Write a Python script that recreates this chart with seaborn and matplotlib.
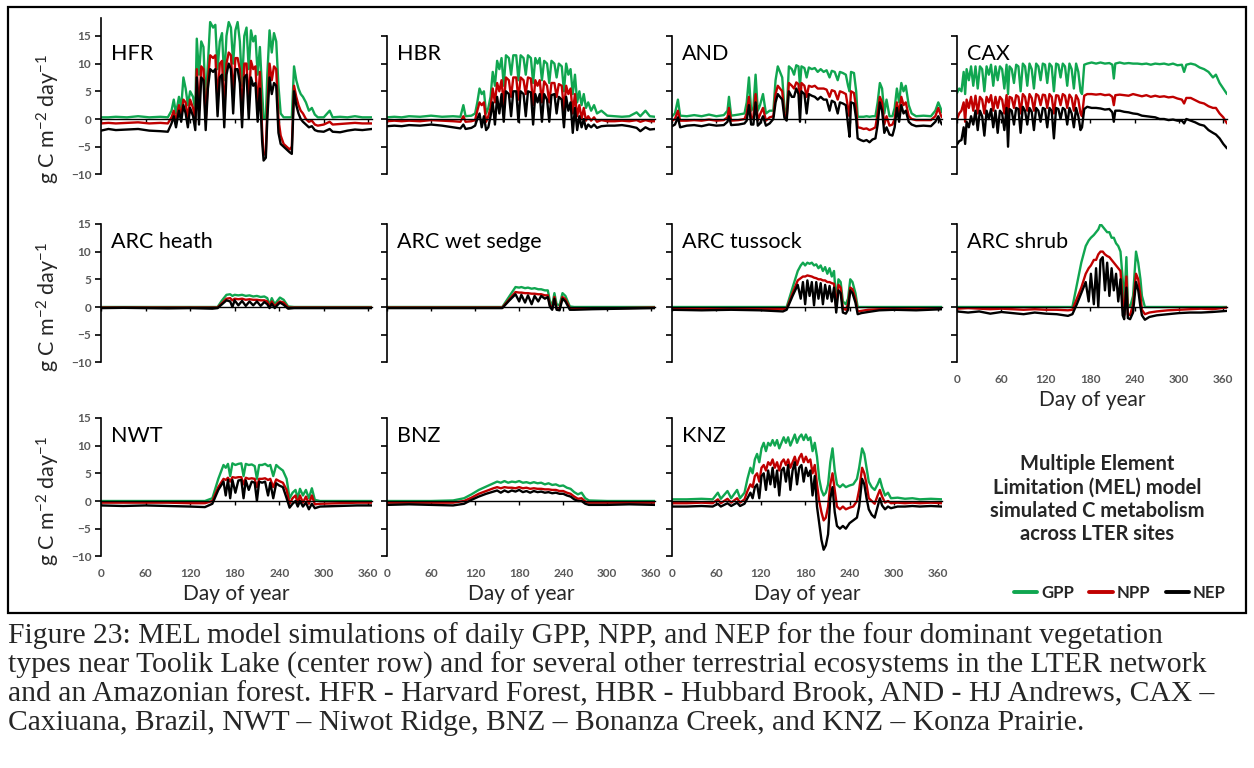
import matplotlib
matplotlib.use("Agg")
import matplotlib.pyplot as plt
from matplotlib.patches import Rectangle
from matplotlib.lines import Line2D
import seaborn as sns
import pandas as pd

# ---------------- data ----------------
FLUXES = ["GPP", "NPP", "NEP"]
COLORS = {"GPP": "#10A650", "NPP": "#C00000", "NEP": "#000000"}
XTICKS = [0, 60, 120, 180, 240, 300, 360]
YTICKS = [-10, -5, 0, 5, 10, 15]

HFR_DAY = [0, 10, 20, 35, 50, 65, 80, 90, 95, 98, 101, 105, 108, 111, 114, 117, 120, 124, 127, 129, 132, 135, 138, 141, 144, 147, 151, 154, 157, 160, 163, 166, 169, 172, 175, 178, 181, 184, 187, 190, 193, 196, 199, 202, 205, 208, 211, 214, 217, 219, 222, 224, 227, 230, 233, 236, 239, 242, 246, 250, 254, 257, 260, 263, 266, 269, 272, 276, 280, 284, 288, 292, 300, 308, 312, 322, 332, 342, 352, 365]
HFR_GPP = [0.3, 0.3, 0.4, 0.3, 0.5, 0.3, 0.4, 0.3, 1.5, 3.5, 1.0, 4.0, 2.0, 7.5, 5.5, 2.5, 5.0, 4.0, 1.5, 14.5, 8.0, 14.0, 13.0, 3.0, 10.0, 17.5, 16.5, 17.0, 9.0, 14.0, 15.5, 7.0, 15.0, 17.5, 16.5, 10.0, 16.0, 17.5, 14.0, 6.0, 15.0, 16.5, 9.0, 16.0, 14.0, 15.0, 8.0, 13.0, 5.0, 0.2, 0.2, 8.0, 16.0, 12.0, 15.5, 14.0, 6.0, 1.0, 0.3, 0.3, 0.3, 0.3, 9.5, 7.0, 5.5, 4.5, 4.0, 3.0, 1.5, 2.0, 0.8, 0.3, 0.3, 1.5, 0.3, 0.4, 0.3, 0.5, 0.3, 0.3]
HFR_NPP = [-0.8, -0.7, -0.8, -0.7, -0.6, -0.8, -0.7, -0.8, 0.3, 1.5, -0.5, 2.5, 0.5, 3.5, 3.0, 0.0, 3.5, 2.0, -0.5, 9.0, 1.5, 9.5, 9.0, -0.5, 7.0, 11.5, 11.0, 11.5, 3.0, 10.0, 10.5, 1.0, 10.0, 12.0, 11.5, 4.0, 11.0, 11.0, 9.0, 0.5, 10.0, 10.0, 3.0, 10.5, 9.0, 9.5, 2.0, 8.5, -2.0, -6.5, -6.0, 2.0, 10.0, 7.0, 9.5, 9.0, 0.0, -3.0, -4.5, -5.0, -5.5, -5.0, 6.0, 4.0, 2.5, 1.5, 1.0, 0.0, -0.5, -0.3, -1.0, -1.2, -1.0, -0.5, -1.0, -0.9, -0.8, -0.7, -0.8, -0.8]
HFR_NEP = [-2.1, -1.8, -2.0, -1.9, -1.8, -2.1, -2.2, -2.3, -0.8, 0.5, -1.5, 1.5, -0.5, 2.5, 1.0, -1.5, 2.0, 0.5, -2.0, 7.5, -1.0, 7.5, 7.0, -2.0, 5.5, 9.0, 8.5, 9.0, 0.5, 7.5, 8.0, -1.5, 8.0, 10.0, 9.0, 1.0, 9.0, 9.0, 6.5, -1.5, 7.5, 8.0, 0.0, 7.5, 6.0, 6.5, -0.5, 5.5, -4.0, -7.5, -7.0, 0.0, 7.5, 4.5, 6.5, 6.0, -2.5, -4.5, -5.0, -5.5, -6.0, -6.3, 5.0, 2.5, 1.0, 0.0, -0.5, -1.0, -1.5, -1.3, -2.0, -2.2, -2.3, -1.8, -2.3, -2.4, -2.1, -1.9, -2.0, -1.8]

HBR_DAY = [0, 10, 20, 30, 45, 60, 75, 90, 100, 104, 107, 115, 120, 123, 126, 129, 132, 135, 138, 141, 144, 147, 150, 153, 156, 159, 162, 166, 169, 172, 176, 179, 182, 186, 189, 192, 196, 199, 202, 205, 208, 211, 214, 218, 221, 224, 228, 231, 234, 238, 241, 244, 247, 250, 253, 256, 259, 262, 265, 268, 271, 274, 278, 282, 286, 292, 300, 310, 320, 330, 340, 345, 352, 358, 365]
HBR_GPP = [0.3, 0.4, 0.3, 0.5, 0.4, 0.6, 0.4, 0.5, 0.4, 2.5, 0.5, 0.6, 1.0, 3.0, 5.5, 4.5, 5.0, 1.0, 2.0, 4.0, 8.5, 6.0, 10.5, 9.0, 11.0, 6.0, 11.5, 11.0, 8.0, 11.5, 11.5, 7.0, 11.5, 11.0, 8.0, 11.5, 11.0, 6.5, 11.0, 10.0, 11.0, 7.0, 10.5, 10.0, 6.5, 10.5, 10.0, 7.5, 10.0, 9.5, 5.0, 10.0, 8.0, 9.0, 4.5, 8.0, 3.0, 5.0, 2.5, 4.5, 2.0, 3.0, 1.5, 2.5, 1.0, 1.5, 0.6, 0.5, 0.4, 0.5, 1.2, 0.5, 1.5, 0.5, 0.4]
HBR_NPP = [-0.4, -0.3, -0.4, -0.3, -0.4, -0.2, -0.3, -0.4, -0.5, 0.5, -0.5, -0.4, -0.2, 1.5, 3.0, 2.5, 3.0, -0.5, 0.5, 2.0, 5.5, 3.0, 6.5, 5.0, 7.0, 2.5, 7.5, 7.0, 4.0, 7.5, 7.5, 3.5, 7.5, 7.0, 4.5, 7.5, 7.3, 2.5, 7.0, 6.0, 7.0, 3.0, 6.8, 6.0, 3.0, 6.5, 6.5, 4.0, 6.3, 6.0, 1.5, 6.0, 4.5, 5.5, 1.0, 4.5, 0.5, 2.5, 0.0, 2.0, -0.3, 0.5, -0.3, 0.3, -0.5, -0.2, -0.4, -0.4, -0.3, -0.4, -0.2, -0.5, -0.2, -0.4, -0.4]
HBR_NEP = [-1.3, -1.2, -1.3, -1.1, -1.2, -1.0, -1.2, -1.5, -1.7, -1.0, -1.8, -1.6, -1.2, 0.0, 1.0, -1.5, 0.5, -2.0, -1.5, 0.5, 3.0, -1.0, 4.0, 1.0, 4.5, -0.5, 5.0, 4.5, 0.5, 5.0, 5.0, -0.5, 5.0, 4.5, 0.5, 5.0, 4.8, -1.0, 4.5, 3.0, 4.5, -0.5, 4.5, 3.5, -0.5, 4.3, 4.5, 1.0, 4.0, 3.5, -1.5, 4.0, 1.5, 3.0, -2.5, 2.0, -2.0, 0.5, -1.5, 0.0, -1.8, -1.0, -1.5, -1.0, -1.6, -1.3, -1.2, -1.2, -1.1, -1.3, -1.6, -2.2, -1.5, -1.9, -1.8]

AND_DAY = [0, 4, 8, 11, 20, 30, 40, 50, 60, 70, 75, 77, 80, 90, 98, 101, 104, 107, 110, 113, 116, 119, 123, 127, 132, 137, 140, 143, 146, 149, 152, 155, 158, 162, 165, 168, 171, 173, 175, 179, 182, 185, 189, 193, 197, 201, 205, 209, 213, 216, 220, 224, 227, 231, 235, 238, 240, 242, 246, 249, 251, 255, 259, 263, 267, 271, 275, 278, 281, 284, 287, 290, 294, 298, 301, 304, 307, 310, 313, 316, 320, 324, 330, 340, 350, 356, 360, 363, 365]
AND_GPP = [0.5, 1.0, 3.5, 0.6, 0.5, 0.7, 0.5, 0.8, 0.5, 0.7, 1.5, 4.0, 0.6, 0.8, 1.0, 3.0, 7.5, 1.5, 2.0, 8.0, 1.5, 2.5, 4.5, 1.0, 1.5, 1.5, 7.0, 9.5, 8.5, 7.5, 2.0, 1.0, 9.5, 9.0, 8.0, 9.7, 9.5, 6.0, 9.5, 9.2, 7.5, 9.3, 9.0, 9.2, 8.5, 9.0, 8.5, 8.8, 7.5, 8.7, 8.5, 7.0, 8.5, 8.3, 8.0, 6.0, 5.0, 8.5, 8.3, 5.0, 0.4, 0.4, 0.4, 0.5, 0.4, 0.5, 0.5, 3.0, 6.5, 5.5, 1.0, 3.5, 0.5, 0.5, 2.0, 5.5, 3.0, 6.5, 5.0, 6.0, 2.5, 1.0, 0.5, 0.6, 0.5, 1.5, 3.0, 2.0, 1.2]
AND_NPP = [-0.3, 0.0, 1.5, -0.3, -0.3, -0.2, -0.3, -0.1, -0.3, -0.2, 0.3, 2.0, -0.3, -0.2, 0.0, 1.0, 4.0, 0.0, 0.5, 4.5, -0.2, 0.8, 2.0, -0.3, 0.3, 0.5, 4.5, 6.0, 5.5, 5.0, 0.8, 0.3, 6.5, 6.0, 5.5, 6.6, 6.3, 2.0, 6.5, 6.0, 4.0, 6.0, 5.8, 6.0, 5.5, 5.5, 5.5, 5.3, 4.0, 5.2, 5.0, 3.5, 5.0, 4.8, 4.5, 2.0, 0.5, 5.0, 4.7, 2.0, -1.5, -1.6, -1.8, -1.7, -2.0, -1.8, -1.5, 1.0, 4.0, 3.0, -1.0, 0.5, -1.2, -1.0, 0.0, 3.0, 1.0, 4.0, 2.5, 3.0, 0.5, 0.0, -0.2, -0.2, -0.2, 0.5, 2.0, 0.8, 0.3]
AND_NEP = [-1.3, -1.0, 0.3, -1.5, -1.2, -1.1, -1.3, -1.0, -1.2, -1.1, -0.5, 0.5, -1.1, -1.0, -0.8, -0.3, 2.5, -1.0, -1.0, 3.0, -1.2, -0.8, 0.5, -1.2, -0.8, 0.0, 3.0, 4.5, 4.0, 3.5, 0.2, -0.3, 5.0, 4.0, 4.0, 5.5, 4.5, -0.5, 5.0, 4.5, 1.0, 4.5, 4.2, 4.0, 3.5, 4.0, 3.5, 3.5, 1.5, 3.3, 3.0, 1.0, 3.0, 2.8, 2.5, -1.0, -3.2, 3.0, 2.8, 0.0, -3.5, -3.8, -4.0, -3.8, -4.2, -3.7, -3.5, -1.0, 3.0, 1.5, -2.5, -1.5, -2.8, -3.0, -1.5, 2.0, -0.5, 2.5, 1.0, 1.5, -0.5, -1.0, -1.3, -1.2, -1.3, -0.5, 0.5, -0.5, -1.0]

CAX_DAY = [0, 3, 6, 9, 11, 13, 16, 19, 22, 25, 28, 31, 34, 37, 40, 43, 46, 49, 52, 55, 58, 61, 64, 67, 69, 71, 74, 77, 80, 83, 86, 89, 92, 95, 98, 101, 104, 107, 110, 113, 116, 119, 122, 125, 128, 131, 134, 137, 140, 143, 146, 149, 152, 155, 158, 161, 164, 167, 169, 172, 176, 182, 188, 194, 200, 206, 210, 212, 214, 220, 226, 232, 238, 244, 250, 256, 262, 268, 274, 280, 286, 292, 298, 304, 307, 310, 316, 322, 328, 334, 340, 346, 350, 355, 360, 365]
CAX_GPP = [4.7, 5.5, 5.0, 8.5, 4.5, 9.0, 7.0, 9.5, 6.0, 9.5, 5.5, 9.5, 9.0, 5.0, 9.5, 8.0, 9.8, 6.0, 9.5, 7.0, 9.5, 9.0, 5.5, 9.8, 4.5, 9.5, 9.0, 6.5, 9.8, 9.5, 5.0, 10.0, 9.5, 6.0, 10.0, 9.0, 5.5, 10.0, 9.5, 7.0, 10.0, 9.8, 6.5, 10.0, 9.5, 5.0, 10.0, 9.8, 7.5, 10.0, 9.5, 6.0, 10.0, 9.0, 5.5, 10.0, 8.5, 5.0, 4.5, 9.8, 10.0, 10.2, 10.0, 10.2, 10.0, 10.1, 9.8, 7.3, 10.0, 10.2, 10.0, 10.1, 10.0, 10.0, 9.9, 10.0, 9.8, 10.0, 9.9, 10.0, 9.8, 10.0, 9.7, 9.8, 8.5, 9.8, 10.0, 9.8, 9.3, 9.0, 8.5, 7.5, 8.0, 6.5, 5.5, 4.5]
CAX_NPP = [0.0, 1.0, 1.5, 3.0, -0.5, 3.5, 2.0, 4.0, 1.5, 4.2, 1.0, 4.0, 3.5, 1.0, 4.0, 3.0, 4.3, 1.5, 4.0, 2.0, 4.0, 3.5, 1.0, 4.3, 0.5, 4.0, 3.8, 2.0, 4.3, 4.0, 1.0, 4.5, 4.0, 1.5, 4.5, 3.8, 1.5, 4.5, 4.2, 2.5, 4.4, 4.3, 2.0, 4.5, 4.0, 1.0, 4.3, 4.2, 2.5, 4.5, 4.2, 2.0, 4.4, 3.8, 1.5, 4.3, 3.5, 1.0, 0.5, 4.2, 4.5, 4.5, 4.4, 4.5, 4.3, 4.4, 4.0, 2.5, 4.3, 4.4, 4.3, 4.2, 4.5, 4.3, 4.1, 4.3, 4.0, 4.2, 4.0, 4.1, 3.9, 4.0, 3.7, 3.5, 2.8, 3.8, 3.8, 3.4, 3.0, 2.8, 2.3, 2.0, 2.0, 1.0, 0.3, -0.8]
CAX_NEP = [-4.6, -4.0, -3.8, -1.5, -4.5, -0.5, -1.5, 0.5, -1.0, 1.5, -2.0, 1.5, 0.5, -3.0, 1.5, 0.0, 1.8, -1.5, 1.5, -2.5, 1.5, 1.0, -2.0, 2.0, -5.0, 1.8, 1.5, -1.0, 2.0, 1.8, -2.5, 2.2, 1.5, -1.0, 2.0, 1.3, -2.0, 2.0, 1.5, -0.5, 2.0, 1.8, -1.5, 2.0, 1.5, -3.5, 2.0, 1.8, 0.0, 2.0, 1.7, -1.0, 2.0, 1.0, -1.5, 2.0, 0.5, -2.0, -1.5, 1.8, 2.2, 2.0, 2.0, 1.9, 1.7, 1.8, 1.2, -0.5, 1.5, 1.5, 1.3, 1.2, 1.0, 0.9, 0.6, 0.5, 0.4, 0.3, 0.0, 0.0, -0.2, -0.1, -0.3, -0.3, -0.8, 0.0, -0.3, -0.6, -1.0, -1.2, -2.0, -2.5, -2.8, -3.5, -4.5, -5.3]

HEATH_DAY = [0, 30, 60, 90, 120, 150, 157, 163, 169, 174, 177, 180, 185, 190, 195, 200, 205, 210, 215, 220, 224, 227, 230, 234, 238, 241, 246, 252, 260, 300, 330, 365]
HEATH_GPP = [0.0, 0.0, 0.0, 0.0, 0.0, 0.0, 0.0, 1.2, 2.2, 2.3, 2.0, 2.2, 2.1, 2.2, 2.0, 2.1, 1.9, 2.0, 1.8, 1.9, 1.6, 0.3, 1.6, 0.5, 1.2, 1.7, 1.3, 0.1, 0.0, 0.0, 0.0, 0.0]
HEATH_NPP = [-0.1, -0.1, -0.1, -0.1, -0.1, -0.1, -0.1, 0.7, 1.5, 1.6, 1.2, 1.5, 1.4, 1.5, 1.3, 1.4, 1.3, 1.3, 1.2, 1.2, 1.0, 0.0, 1.0, 0.1, 0.7, 1.0, 0.8, -0.1, -0.1, -0.1, -0.1, -0.1]
HEATH_NEP = [-0.2, -0.15, -0.2, -0.25, -0.2, -0.3, -0.2, 0.5, 1.2, 1.0, 0.0, 1.2, 0.3, 1.1, 0.2, 1.0, 0.3, 1.0, 0.2, 0.9, 0.5, -0.2, 0.6, -0.2, 0.4, 0.8, 0.4, -0.3, -0.2, -0.2, -0.2, -0.2]

SEDGE_DAY = [0, 60, 120, 157, 166, 175, 180, 183, 188, 192, 197, 201, 206, 210, 215, 219, 222, 225, 228, 231, 235, 239, 243, 249, 255, 280, 320, 365]
SEDGE_GPP = [0.0, 0.0, 0.0, 0.0, 1.8, 3.6, 3.5, 3.6, 3.4, 3.5, 3.3, 3.4, 3.2, 3.2, 3.0, 3.0, 1.0, 0.3, 2.5, 0.5, 0.3, 2.5, 2.0, 0.1, 0.0, 0.0, 0.0, 0.0]
SEDGE_NPP = [-0.1, -0.1, -0.1, -0.1, 1.3, 2.7, 2.6, 2.6, 2.5, 2.5, 2.4, 2.4, 2.3, 2.3, 2.1, 2.1, 0.3, -0.3, 1.8, -0.2, -0.3, 1.8, 1.4, -0.2, -0.3, -0.2, -0.2, -0.1]
SEDGE_NEP = [-0.2, -0.2, -0.2, -0.2, 1.1, 2.3, 1.0, 2.2, 0.8, 2.1, 0.5, 2.0, 1.0, 2.0, 1.5, 1.8, 0.0, -0.5, 1.5, -0.5, -0.6, 1.5, 1.0, -0.5, -0.5, -0.4, -0.3, -0.2]

TUSS_DAY = [0, 40, 80, 120, 150, 155, 163, 170, 174, 177, 180, 183, 186, 189, 192, 195, 198, 201, 204, 207, 210, 213, 216, 219, 222, 225, 228, 231, 235, 238, 241, 244, 248, 251, 256, 265, 280, 300, 330, 365]
TUSS_GPP = [0.0, 0.0, 0.0, 0.0, 0.0, 0.0, 3.5, 6.5, 7.5, 8.0, 7.5, 8.0, 7.8, 8.0, 7.5, 7.7, 7.0, 7.5, 6.5, 7.2, 6.0, 7.0, 5.5, 6.5, 1.0, 5.0, 4.5, 1.0, 0.5, 1.5, 5.0, 4.5, 2.5, 0.0, 0.0, 0.0, 0.0, 0.0, 0.0, 0.0]
TUSS_NPP = [-0.3, -0.3, -0.3, -0.3, -0.4, -0.3, 2.5, 4.8, 5.2, 5.5, 5.5, 5.7, 5.6, 5.5, 5.3, 5.2, 5.0, 5.0, 4.8, 4.8, 4.5, 4.5, 4.3, 4.2, 0.0, 4.0, 3.5, -0.3, -0.5, 0.5, 3.5, 3.2, 1.5, -0.8, -0.7, -0.5, -0.4, -0.3, -0.3, -0.2]
TUSS_NEP = [-0.5, -0.6, -0.5, -0.6, -0.8, -0.5, 2.0, 4.0, 1.5, 4.5, 0.5, 4.8, 2.0, 4.5, 0.3, 4.5, 1.5, 4.3, 0.5, 4.0, 1.5, 3.8, 1.0, 3.5, -1.0, 3.0, 2.5, -1.0, -1.2, -0.5, 3.0, 2.5, 0.8, -1.3, -1.1, -0.9, -0.6, -0.5, -0.6, -0.4]

SHRUB_DAY = [0, 15, 30, 45, 60, 75, 90, 105, 120, 135, 150, 156, 162, 168, 174, 178, 181, 185, 188, 191, 194, 197, 200, 203, 206, 209, 212, 215, 218, 221, 224, 226, 229, 231, 234, 238, 242, 245, 248, 250, 254, 260, 270, 285, 300, 315, 330, 345, 365]
SHRUB_GPP = [0.0, 0.0, 0.0, 0.0, 0.0, 0.0, 0.0, 0.0, 0.0, 0.0, 0.0, 0.0, 4.0, 8.0, 11.0, 12.0, 12.5, 13.0, 13.5, 14.0, 15.0, 14.5, 14.0, 13.5, 13.5, 12.5, 12.5, 11.5, 11.0, 10.0, 5.0, 0.0, 9.0, 0.5, 0.0, 2.0, 10.0, 8.0, 5.0, 2.0, 0.0, 0.0, 0.0, 0.0, 0.0, 0.0, 0.0, 0.0, 0.0]
SHRUB_NPP = [-0.3, -0.2, -0.3, -0.4, -0.3, -0.4, -0.5, -0.4, -0.5, -0.5, -0.6, -0.5, 1.5, 3.5, 6.0, 7.0, 7.5, 8.5, 8.5, 9.5, 10.0, 10.0, 9.5, 9.2, 9.0, 8.5, 8.0, 7.5, 7.0, 6.5, 1.0, -1.5, 5.5, -1.3, -1.5, 0.5, 6.0, 5.0, 2.0, -0.5, -1.3, -1.0, -0.8, -0.6, -0.5, -0.4, -0.3, -0.4, -0.1]
SHRUB_NEP = [-0.8, -1.0, -0.8, -1.2, -0.9, -1.1, -1.3, -1.0, -1.2, -1.3, -1.6, -1.3, 0.5, 2.5, 4.5, 1.0, 6.0, 0.5, 7.0, 0.0, 8.5, 9.0, 3.0, 8.0, 2.0, 7.0, 3.0, 6.0, 1.0, 5.0, -1.5, -2.2, 3.5, -2.0, -2.2, -1.0, 4.5, 3.0, 0.0, -1.5, -2.3, -1.8, -1.5, -1.3, -1.1, -1.0, -1.0, -0.9, -0.7]

NWT_DAY = [0, 30, 60, 90, 120, 140, 150, 158, 165, 168, 171, 174, 177, 181, 185, 189, 192, 195, 199, 203, 207, 210, 213, 217, 221, 225, 228, 232, 236, 240, 245, 250, 254, 258, 262, 265, 268, 272, 276, 280, 284, 288, 295, 320, 345, 365]
NWT_GPP = [0.0, 0.0, 0.0, 0.0, 0.0, 0.0, 0.5, 4.0, 6.5, 6.0, 6.7, 4.5, 6.8, 6.5, 6.7, 6.8, 4.5, 6.7, 6.5, 6.6, 6.3, 4.0, 6.5, 6.5, 6.7, 6.3, 6.5, 4.5, 6.5, 6.0, 5.5, 4.0, 0.5, 1.5, 2.0, 0.5, 2.2, 1.0, 2.0, 0.5, 2.3, 0.2, 0.0, 0.0, 0.0, 0.0]
NWT_NPP = [-0.3, -0.3, -0.3, -0.3, -0.4, -0.4, 0.0, 2.5, 4.0, 3.8, 4.2, 3.5, 4.3, 4.2, 4.3, 4.3, 3.0, 4.2, 4.0, 4.1, 4.0, 2.5, 4.0, 4.0, 4.1, 3.8, 4.0, 2.5, 3.9, 3.6, 3.3, 2.0, -0.5, 0.5, 1.0, -0.5, 1.0, -0.3, 0.8, -0.5, 1.0, -0.6, -0.5, -0.4, -0.3, -0.3]
NWT_NEP = [-0.8, -0.9, -0.8, -0.9, -1.0, -1.1, -0.5, 2.0, 3.5, 1.0, 3.8, 0.5, 3.8, 1.5, 3.7, 3.8, 0.5, 3.7, 2.0, 3.5, 3.3, 0.0, 3.5, 3.3, 3.5, 1.0, 3.3, 0.5, 3.2, 2.8, 2.5, 0.5, -1.2, -0.5, 0.0, -1.0, 0.0, -1.0, -0.3, -1.5, -0.5, -1.3, -1.0, -0.9, -0.8, -0.8]

BNZ_DAY = [0, 30, 60, 90, 105, 115, 125, 135, 145, 150, 155, 160, 165, 170, 175, 180, 185, 190, 195, 200, 205, 210, 215, 220, 225, 230, 235, 240, 245, 250, 255, 260, 265, 270, 275, 300, 330, 365]
BNZ_GPP = [0.0, 0.0, 0.0, 0.1, 0.5, 1.2, 2.0, 2.6, 3.2, 3.5, 3.3, 3.6, 3.3, 3.5, 3.4, 3.6, 3.3, 3.4, 3.2, 3.4, 3.2, 3.3, 3.0, 3.2, 2.9, 3.0, 2.7, 2.8, 2.4, 2.2, 1.6, 1.2, 1.5, 0.5, 0.1, 0.0, 0.0, 0.0]
BNZ_NPP = [-0.3, -0.3, -0.3, -0.3, 0.0, 0.6, 1.3, 1.8, 2.3, 2.5, 2.3, 2.5, 2.4, 2.4, 2.3, 2.5, 2.3, 2.4, 2.2, 2.3, 2.2, 2.2, 2.1, 2.1, 2.0, 2.0, 1.8, 1.8, 1.5, 1.3, 0.8, 0.4, 0.5, -0.1, -0.3, -0.3, -0.3, -0.3]
BNZ_NEP = [-0.7, -0.6, -0.7, -0.8, -0.5, 0.2, 0.8, 1.3, 1.7, 1.9, 1.5, 1.9, 1.6, 1.9, 1.7, 2.0, 1.6, 1.8, 1.5, 1.8, 1.6, 1.7, 1.5, 1.6, 1.4, 1.5, 1.3, 1.3, 1.0, 0.8, 0.3, 0.0, 0.0, -0.5, -0.7, -0.7, -0.6, -0.7]

KNZ_DAY = [0, 20, 40, 55, 62, 66, 75, 80, 88, 92, 98, 102, 106, 109, 112, 115, 118, 121, 124, 127, 130, 133, 136, 139, 142, 145, 148, 151, 154, 157, 160, 163, 166, 169, 172, 175, 178, 181, 184, 187, 190, 193, 196, 199, 202, 205, 208, 211, 214, 217, 220, 223, 227, 231, 235, 240, 245, 250, 253, 257, 260, 263, 266, 270, 274, 278, 281, 284, 288, 292, 296, 305, 315, 325, 335, 350, 365]
KNZ_GPP = [0.3, 0.3, 0.4, 0.3, 1.5, 0.4, 1.8, 0.5, 2.0, 0.5, 1.5, 4.0, 6.0, 5.0, 7.5, 8.5, 7.0, 9.5, 10.5, 9.0, 10.5, 10.0, 11.0, 10.0, 11.0, 9.5, 10.5, 11.5, 10.5, 11.5, 10.0, 11.0, 12.0, 10.5, 11.5, 12.0, 11.0, 12.0, 11.0, 11.5, 9.0, 10.5, 8.0, 4.0, 2.0, 1.0, 1.5, 3.0, 7.0, 9.5, 5.5, 3.0, 2.5, 3.0, 2.5, 2.8, 3.0, 4.0, 6.0, 9.5, 8.5, 6.0, 3.5, 2.5, 2.0, 3.0, 4.0, 2.5, 1.0, 1.5, 0.5, 0.6, 0.4, 0.5, 0.3, 0.4, 0.3]
KNZ_NPP = [-0.4, -0.4, -0.3, -0.4, 0.3, -0.4, 0.4, -0.3, 0.5, -0.3, 0.3, 1.8, 3.0, 2.5, 4.5, 5.0, 3.5, 6.0, 6.5, 5.5, 7.0, 6.5, 7.5, 6.0, 7.0, 5.5, 7.0, 7.5, 6.5, 7.5, 6.0, 7.0, 8.0, 6.5, 7.8, 8.5, 7.0, 8.0, 7.0, 7.5, 5.0, 6.5, 3.0, 0.0, -2.0, -3.5, -3.0, -1.0, 3.0, 5.0, 2.0, -1.0, -1.5, -1.0, -1.5, -1.2, -1.0, 0.0, 2.0, 6.0, 5.0, 3.0, 0.5, 0.0, -0.5, 1.0, 2.0, 0.8, -0.3, 0.0, -0.4, -0.3, -0.4, -0.3, -0.4, -0.3, -0.4]
KNZ_NEP = [-1.0, -1.0, -0.9, -1.0, -0.5, -1.0, -0.4, -0.9, -0.3, -0.9, -0.5, 0.5, 1.5, 0.5, 2.5, 3.0, 0.5, 4.5, 5.0, 2.0, 5.5, 3.0, 6.0, 2.5, 5.5, 1.0, 5.5, 6.0, 3.5, 6.5, 2.0, 5.5, 7.0, 3.0, 6.0, 6.5, 3.5, 6.0, 4.5, 5.5, 1.0, 4.5, -1.0, -4.0, -7.0, -8.8, -8.0, -6.0, 0.5, 2.5, -2.0, -4.5, -5.0, -4.5, -5.0, -4.0, -3.5, -3.0, -1.0, 4.0, 3.0, 0.5, -1.5, -2.5, -3.0, -1.0, 0.5, -0.8, -1.5, -1.0, -1.3, -1.0, -1.0, -0.9, -1.0, -0.9, -1.0]

SITES = [
    ("HFR", HFR_DAY, HFR_GPP, HFR_NPP, HFR_NEP),
    ("HBR", HBR_DAY, HBR_GPP, HBR_NPP, HBR_NEP),
    ("AND", AND_DAY, AND_GPP, AND_NPP, AND_NEP),
    ("CAX", CAX_DAY, CAX_GPP, CAX_NPP, CAX_NEP),
    ("ARC heath", HEATH_DAY, HEATH_GPP, HEATH_NPP, HEATH_NEP),
    ("ARC wet sedge", SEDGE_DAY, SEDGE_GPP, SEDGE_NPP, SEDGE_NEP),
    ("ARC tussock", TUSS_DAY, TUSS_GPP, TUSS_NPP, TUSS_NEP),
    ("ARC shrub", SHRUB_DAY, SHRUB_GPP, SHRUB_NPP, SHRUB_NEP),
    ("NWT", NWT_DAY, NWT_GPP, NWT_NPP, NWT_NEP),
    ("BNZ", BNZ_DAY, BNZ_GPP, BNZ_NPP, BNZ_NEP),
    ("KNZ", KNZ_DAY, KNZ_GPP, KNZ_NPP, KNZ_NEP),
]
XLABEL_SITES = {"ARC shrub", "NWT", "BNZ", "KNZ"}

TITLE = "Multiple Element\nLimitation (MEL) model\nsimulated C metabolism\nacross LTER sites"
CAPTION = ("Figure 23: MEL model simulations of daily GPP, NPP, and NEP for the four dominant vegetation\n"
           "types near Toolik Lake (center row) and for several other terrestrial ecosystems in the LTER network\n"
           "and an Amazonian forest. HFR - Harvard Forest, HBR - Hubbard Brook, AND - HJ Andrews, CAX \u2013\n"
           "Caxiuana, Brazil, NWT \u2013 Niwot Ridge, BNZ \u2013 Bonanza Creek, and KNZ \u2013 Konza Prairie.")

# ---------------- style ----------------
sns.set_style("white")
plt.rcParams["font.family"] = ["Lato", "DejaVu Sans"]
plt.rcParams["mathtext.default"] = "regular"

W, H = 1254, 768
fig = plt.figure(figsize=(W / 100, H / 100), dpi=100)
fig.patch.set_facecolor("white")

COLS = [(101, 372), (387, 655), (672, 942), (957, 1227)]
ZERO_PX = [119, 307, 501]
PX_PER_UNIT = 5.54
TICK_GRAY = "#595959"
TICK_SIZE = 8.5

for i, (name, days, gpp, npp, nep) in enumerate(SITES):
    r, c = divmod(i, 4)
    x0, x1 = COLS[c]
    ytop_val = 18.2 if name == "HFR" else 15.0
    ytop = ZERO_PX[r] - ytop_val * PX_PER_UNIT
    ybot = ZERO_PX[r] + 10 * PX_PER_UNIT
    ax = fig.add_axes([x0 / W, 1 - ybot / H, (x1 - x0) / W, (ybot - ytop) / H])
    ax.set_facecolor("none")

    n = len(days)
    df = pd.DataFrame({"day": list(days) * 3,
                       "value": list(gpp) + list(npp) + list(nep),
                       "flux": ["GPP"] * n + ["NPP"] * n + ["NEP"] * n})
    sns.lineplot(data=df, x="day", y="value", hue="flux", hue_order=FLUXES,
                 palette=COLORS, estimator=None, sort=False, lw=1.7,
                 legend=False, ax=ax)

    ax.set_xlim(0, 365)
    ax.set_ylim(-10, ytop_val)
    ax.set_xlabel("")
    ax.set_ylabel("")
    for s in ("top", "right"):
        ax.spines[s].set_visible(False)
    ax.spines["left"].set_bounds(-10, ytop_val)
    ax.spines["left"].set_linewidth(1.2)
    ax.spines["left"].set_color("black")
    ax.spines["bottom"].set_position(("data", 0))
    ax.spines["bottom"].set_linewidth(1.0)
    ax.spines["bottom"].set_color("black")
    ax.set_xticks(XTICKS)
    ax.set_yticks(YTICKS)
    ax.tick_params(axis="x", direction="out", length=3, width=1.0, color="black",
                   labelbottom=False, bottom=True)
    ax.tick_params(axis="y", direction="out", length=4, width=1.2, color="black",
                   left=True, labelleft=(c == 0), labelsize=TICK_SIZE,
                   labelcolor=TICK_GRAY, pad=3)
    for lab in ax.get_yticklabels():
        lab.set_fontweight("bold")
    if c == 0:
        ax.set_ylabel("g C m$^{-2}$ day$^{-1}$", fontsize=15.5)
        ax.yaxis.set_label_coords(-0.145, 10 / (ytop_val + 10))

    ax.text(14, 11.7, name, fontsize=15.5, ha="left", va="center", color="black")

    if name in XLABEL_SITES:
        sec = ax.secondary_xaxis(0)
        sec.set_xticks(XTICKS)
        sec.spines["bottom"].set_visible(False)
        sec.tick_params(length=0, labelsize=TICK_SIZE, labelcolor=TICK_GRAY, pad=8)
        for lab in sec.get_xticklabels():
            lab.set_fontweight("bold")
        sec.set_xlabel("Day of year", fontsize=15, labelpad=4)

# title block and legend
fig.text(1097 / W, 1 - 499 / H, TITLE, ha="center", va="center",
         fontsize=14.5, fontweight="bold", linespacing=1.2)
handles = [Line2D([0], [0], color=COLORS[f], lw=2.8) for f in FLUXES]
leg = fig.legend(handles, FLUXES, loc="center", bbox_to_anchor=(1120 / W, 1 - 593 / H),
                 ncol=3, frameon=False, fontsize=12, handlelength=1.4,
                 handletextpad=0.25, columnspacing=0.9)
for t in leg.get_texts():
    t.set_fontweight("bold")

# frame around the chart
fig.add_artist(Rectangle((8 / W, 1 - 613 / H), (1246 - 8) / W, (613 - 7) / H,
                         transform=fig.transFigure, fill=False, lw=1.6, ec="black"))

# caption
fig.text(8 / W, 1 - 622 / H, CAPTION, ha="left", va="top",
         family=["Liberation Serif", "DejaVu Serif"], fontsize=21.3, linespacing=1.13)

fig.savefig("out.png", dpi=100, facecolor="white")
